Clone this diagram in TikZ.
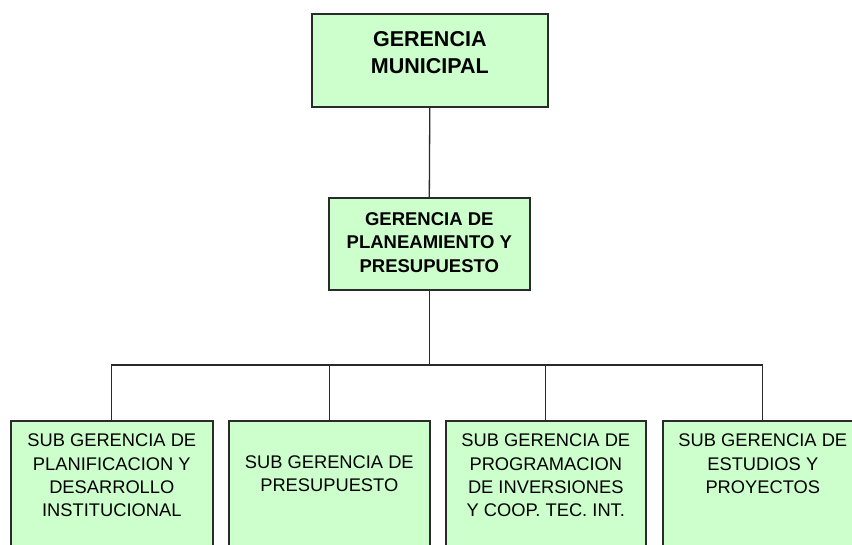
\documentclass[tikz,border=0pt]{standalone}
\usepackage{fontspec}
\setmainfont{Liberation Sans}
\definecolor{boxfill}{HTML}{CCFFCC}
\definecolor{edge}{HTML}{2A2A2A}
\newcommand{\boxtxt}[5]{\parbox[c][#2][t]{#1}{\centering\vspace*{#3}#4#5\par}}
\newcommand{\bigbold}{\fontsize{21.5pt}{27pt}\selectfont\bfseries}
\newcommand{\midbold}{\fontsize{18.5pt}{23.5pt}\selectfont\bfseries}
\newcommand{\subreg}{\fontsize{18.3pt}{23.3pt}\selectfont}
\tikzset{
  orgbox/.style={draw=edge, fill=boxfill, line width=1.6pt, inner sep=0pt, anchor=north west},
  link/.style={draw=edge, line width=1.3pt}
}
\begin{document}
\begin{tikzpicture}[x=1pt,y=1pt]
\clip (0,0) rectangle (852,-544);
\fill[white] (0,0) rectangle (852,-544);
\node[orgbox] (gm) at (311,-13) {\boxtxt{236pt}{93pt}{17.3pt}{\bigbold}{GERENCIA\\MUNICIPAL}};
\node[orgbox] (gpp) at (328,-197) {\boxtxt{201pt}{92pt}{14.4pt}{\midbold}{GERENCIA DE\\PLANEAMIENTO Y\\PRESUPUESTO}};
\node[orgbox] (s1) at (10,-420) {\boxtxt{202pt}{140pt}{13.4pt}{\subreg}{SUB GERENCIA DE\\PLANIFICACION Y\\DESARROLLO\\INSTITUCIONAL}};
\node[orgbox] (s2) at (228,-420) {\boxtxt{201pt}{140pt}{35pt}{\subreg}{SUB GERENCIA DE\\PRESUPUESTO}};
\node[orgbox] (s3) at (445,-420) {\boxtxt{200pt}{140pt}{13.4pt}{\subreg}{SUB GERENCIA DE\\PROGRAMACION\\DE INVERSIONES\\Y COOP. TEC. INT.}};
\node[orgbox] (s4) at (662,-420) {\boxtxt{200pt}{140pt}{13.4pt}{\subreg}{SUB GERENCIA DE\\ESTUDIOS Y\\PROYECTOS}};
\coordinate (bus) at (0,-365);
\draw[link] (gm.south) -- (gpp.north);
\draw[link] (gpp.south) -- (gpp.south |- bus);
\draw[link] (s1.north) -- (s1.north |- bus) -- (s4.north |- bus) -- (s4.north);
\draw[link] (s2.north) -- (s2.north |- bus);
\draw[link] (s3.north) -- (s3.north |- bus);
\end{tikzpicture}
\end{document}
